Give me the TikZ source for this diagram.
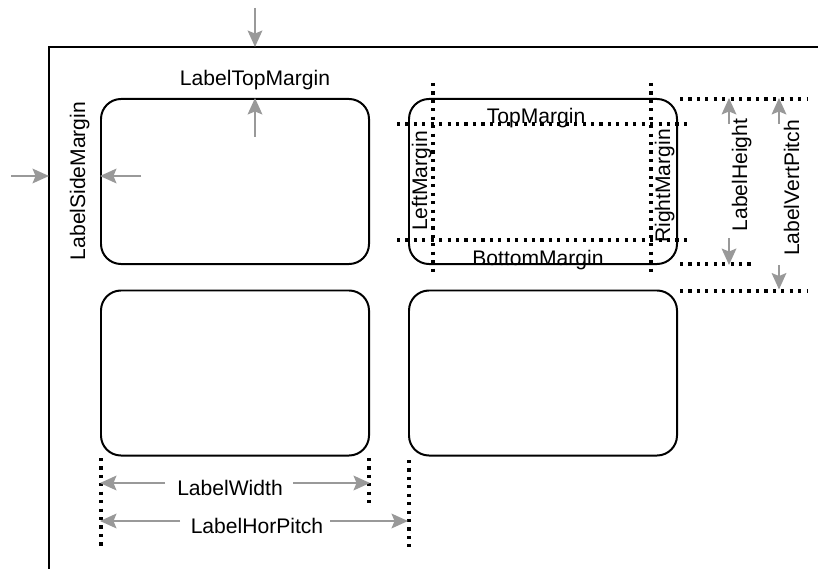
\documentclass[tikz,border=0pt]{standalone}
\usepackage{fontspec}
\setmainfont{Liberation Sans}
\usetikzlibrary{
    arrows.meta
}
\definecolor{dimgray}{RGB}{153,153,153}
\tikzset{
    labelbox/.style={draw, line width=1.7pt, rounded corners=0.6cm,
        minimum width=8.04cm, minimum height=4.95cm, inner sep=0pt},
    dimarrow/.style={draw=dimgray, line width=1.8pt,
        -{Stealth[length=14pt,width=12.5pt,inset=2.5pt]}},
    guide/.style={line width=2.7pt, dash pattern=on 2.7pt off 4.5pt},
    txt/.style={font=\fontsize{18}{21}\selectfont, anchor=base, inner sep=0pt}
}

\begin{document}
\begin{tikzpicture}[x=0.03cm, y=-0.03cm]
\useasboundingbox (0,0) rectangle (818,569);

% sheet
\draw[line width=1.7pt] (49,569) -- (49,47) -- (818,47);
\coordinate (topin) at (255,8);
\coordinate (sidein) at (11,176);
\draw[dimarrow] (topin) -- (topin |- 0,47);
\draw[dimarrow] (sidein) -- (sidein -| 49,0);

% labels
\node[labelbox] (lab11) at (235,181.5) {};
\node[labelbox] (lab12) at (543,181.5) {};
\node[labelbox] (lab21) at (235,373) {};
\node[labelbox] (lab22) at (543,373) {};

% margins of the sheet
\node[txt] (ltm) at (255,86) {LabelTopMargin};
\node[txt, rotate=90] (lsm) at (85,181) {LabelSideMargin};
\coordinate (ltmtail) at (255,137);
\coordinate (lsmtail) at (141,176);
\draw[dimarrow] (ltmtail) -- (lab11.north -| ltmtail);
\draw[dimarrow] (lsmtail) -- (lab11.west |- lsmtail);

% margins inside a label
\draw[guide] (433,83) -- (433,275);
\draw[guide] (651,83) -- (651,275);
\draw[guide] (397,124) -- (692,124);
\draw[guide] (397,240) -- (692,240);
\node[txt] (tm) at (536,124) {TopMargin};
\node[txt] (bm) at (538,265) {BottomMargin};
\node[txt, rotate=90] (lm) at (427,181) {LeftMargin};
\node[txt, rotate=90] (rm) at (670,186) {RightMargin};

% height and vertical pitch
\draw[guide] (680,99) -- (808,99);
\draw[guide] (680,264) -- (755,264);
\draw[guide] (680,291) -- (808,291);
\node[txt, rotate=90] (lh) at (747,175) {LabelHeight};
\node[txt, rotate=90] (lvp) at (799,188) {LabelVertPitch};
\coordinate (lhup) at (729,124);
\coordinate (lhdown) at (729,238);
\coordinate (lvpup) at (779,124);
\coordinate (lvpdown) at (779,265);
\draw[dimarrow] (lhup) -- (lhup |- lab12.north);
\draw[dimarrow] (lhdown) -- (lhdown |- lab12.south);
\draw[dimarrow] (lvpup) -- (lvpup |- lab12.north);
\draw[dimarrow] (lvpdown) -- (lvpdown |- lab22.north);

% width and horizontal pitch
\draw[guide] (101,458) -- (101,547);
\draw[guide] (369,458) -- (369,508);
\draw[guide] (409,460) -- (409,547);
\node[txt] (lw) at (230,495) {LabelWidth};
\node[txt] (lhp) at (257,533) {LabelHorPitch};
\coordinate (lwleft) at (165,483);
\coordinate (lwright) at (293,483);
\coordinate (lhpleft) at (180,521);
\coordinate (lhpright) at (330,521);
\draw[dimarrow] (lwleft) -- (lwleft -| lab21.west);
\draw[dimarrow] (lwright) -- (lwright -| lab21.east);
\draw[dimarrow] (lhpleft) -- (lhpleft -| lab21.west);
\draw[dimarrow] (lhpright) -- (lhpright -| lab22.west);
\end{tikzpicture}
\end{document}
